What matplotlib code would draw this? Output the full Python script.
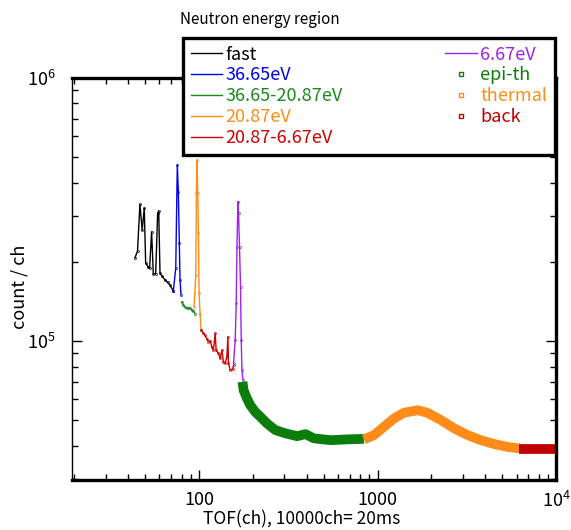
import matplotlib
matplotlib.use('Agg')
import matplotlib.pyplot as plt
from matplotlib.lines import Line2D
from matplotlib.ticker import FixedLocator, LogLocator, NullFormatter
import numpy as np

plt.rcParams['font.family'] = ['Noto Sans CJK JP', 'DejaVu Sans']
plt.rcParams['mathtext.fontset'] = 'custom'
plt.rcParams['mathtext.rm'] = 'Noto Sans CJK JP'

# ---- data (TOF ch, count/ch) ----
fastX  = [43.7, 45.2, 46.6, 48.0, 49.3, 50.2, 51.9, 52.8, 54.2, 55.4, 57.1, 58.6, 59.4, 60.4, 62.2, 64.4, 66.7, 68.7, 71.7]
fastY  = [207e3, 220e3, 331e3, 264e3, 320e3, 198e3, 191e3, 189e3, 260e3, 180e3, 180e3, 306e3, 312e3, 181e3, 176e3, 171e3, 167e3, 163e3, 155e3]

res1X  = [71.7, 74.0, 75.5, 76.5, 77.5, 78.2, 79.2]
res1Y  = [155e3, 189e3, 467e3, 370e3, 235e3, 171e3, 150e3]

mid1X  = [80.0, 81.6, 83.4, 85.2, 87.1, 89.0, 91.0, 93.0, 95.0]
mid1Y  = [141e3, 137e3, 135e3, 134e3, 133e3, 133.5e3, 131e3, 130e3, 127e3]

res2X  = [93.7, 95.8, 96.6, 97.4, 98.3, 99.1, 100.0, 101.3, 102.6]
res2Y  = [135e3, 178e3, 364e3, 488e3, 364e3, 257e3, 152e3, 127e3, 110e3]

mid2X  = [102.6, 105.7, 108.0, 110.5, 112.8, 115.5, 117.8, 120.3, 123.0, 124.6, 128.3, 131.2, 134.1, 136.9,
          140.0, 143.1, 145.0, 146.1, 149.3, 153.9, 155.9]
mid2Y  = [110e3, 107e3, 105e3, 102e3, 99.4e3, 100e3, 95.1e3, 92.4e3, 107e3, 92.4e3, 89.8e3, 85.9e3, 92.4e3, 83.4e3,
          82.3e3, 87.2e3, 103.8e3, 82.3e3, 77.6e3, 78.0e3, 81.0e3]

res3X  = [155.9, 159.3, 161.4, 162.9, 165.0, 166.3, 168.4, 170.6, 172.2, 173.8, 176.0]
res3Y  = [82.3e3, 101e3, 139e3, 228e3, 339e3, 306e3, 228e3, 161e3, 101e3, 77.6e3, 71.1e3]

epiX   = [175.1, 177.4, 185.4, 193.4, 206.3, 220.1, 240.1, 267.3, 304.2, 353.9, 394.0, 438.6, 544.5, 675.9, 837.5]
epiY   = [70.0e3, 65.1e3, 60.5e3, 57.1e3, 53.8e3, 51.6e3, 48.6e3, 45.9e3, 44.6e3, 43.5e3, 44.3e3, 42.7e3, 42.0e3, 42.3e3, 42.5e3]

thermX = [837.5, 953.2, 1085, 1235, 1405, 1671, 1902, 2259, 2683, 3190, 3791, 4502, 5354, 6221]
thermY = [42.3e3, 43.9e3, 47.2e3, 50.8e3, 53.4e3, 54.6e3, 53.4e3, 50.1e3, 46.6e3, 43.9e3, 42.0e3, 40.6e3, 39.6e3, 39.1e3]

backX  = [6221, 7552, 8982, 10000]
backY  = [38.8e3, 38.8e3, 38.8e3, 38.8e3]

lineSeries = [
    (fastX, fastY, 'black',   'fast'),
    (res1X, res1Y, '#0000ee', '36.65eV'),
    (mid1X, mid1Y, '#1a8a1a', '36.65-20.87eV'),
    (res2X, res2Y, '#ff8c1a', '20.87eV'),
    (mid2X, mid2Y, '#cc0000', '20.87-6.67eV'),
    (res3X, res3Y, '#a020f0', '6.67eV'),
]
bandSeries = [
    (epiX,   epiY,   '#0a7d0a', 'epi-th'),
    (thermX, thermY, '#ff8c1a', 'thermal'),
    (backX,  backY,  '#c00000', 'back'),
]

fig = plt.figure(figsize=(5.71, 5.30), dpi=100)
ax = fig.add_axes([0.126, 0.094, 0.848, 0.759])

for X, Y, col, lab in lineSeries:
    ax.plot(X, Y, '-', color=col, linewidth=1.0, marker='s', markersize=1.2, fillstyle='none', markeredgewidth=0.5)
for X, Y, col, lab in bandSeries:
    ax.plot(X, Y, '-', color=col, linewidth=7, solid_capstyle='butt', solid_joinstyle='round', clip_on=False)

ax.set_xscale('log')
ax.set_yscale('log')
ax.set_xlim(19.4, 10000)
ax.set_ylim(29600, 1e6)

ax.xaxis.set_major_locator(FixedLocator([100, 1000, 10000]))
ax.set_xticklabels(['100', '1000', '$10^4$'])
ax.xaxis.set_minor_locator(LogLocator(base=10, subs=np.arange(2, 10)))
ax.xaxis.set_minor_formatter(NullFormatter())
ax.yaxis.set_major_locator(FixedLocator([1e5, 1e6]))
ax.set_yticklabels(['$10^5$', '$10^6$'])
ax.yaxis.set_minor_locator(LogLocator(base=10, subs=np.arange(2, 10)))
ax.yaxis.set_minor_formatter(NullFormatter())

ax.tick_params(which='both', direction='in', top=True, right=True, labelsize=13, colors='black')
ax.tick_params(which='major', length=7, width=1)
ax.tick_params(which='minor', length=4, width=1)
ax.tick_params(axis='x', which='major', pad=8)
ax.tick_params(axis='y', which='major', pad=12)

ax.spines['left'].set_linewidth(1.0)
for s in ['bottom', 'top', 'right']:
    ax.spines[s].set_linewidth(2.4)

ax.set_xlabel('TOF(ch), 10000ch= 20ms', fontsize=12.5)
ax.xaxis.set_label_coords(0.475, -0.075)
ax.set_ylabel('count / ch', fontsize=13)
ax.yaxis.set_label_coords(-0.09, 0.48)

handles = []
for X, Y, col, lab in lineSeries:
    handles.append(Line2D([], [], color=col, linewidth=1.0, label=lab))
for X, Y, col, lab in bandSeries:
    handles.append(Line2D([], [], color=col, linestyle='none', marker='s', markersize=3.5,
                          fillstyle='none', markeredgewidth=1.0, label=lab))

leg = fig.legend(handles=handles, ncol=2, loc='upper left', bbox_to_anchor=(183/571, 1 - 38/530),
                 fontsize=13, frameon=True, fancybox=False, edgecolor='black', framealpha=1,
                 borderpad=0.42, handlelength=1.75, handletextpad=0.2, columnspacing=5.65,
                 labelspacing=0.16, borderaxespad=0)
leg.get_frame().set_linewidth(2.4)
leg.set_zorder(10)
for txt, h in zip(leg.get_texts(), handles):
    txt.set_color(h.get_color())

fig.text(180/571, 1 - 20/530, 'Neutron energy region', fontsize=11, ha='left', va='center')

fig.savefig('out.png', dpi=100)
